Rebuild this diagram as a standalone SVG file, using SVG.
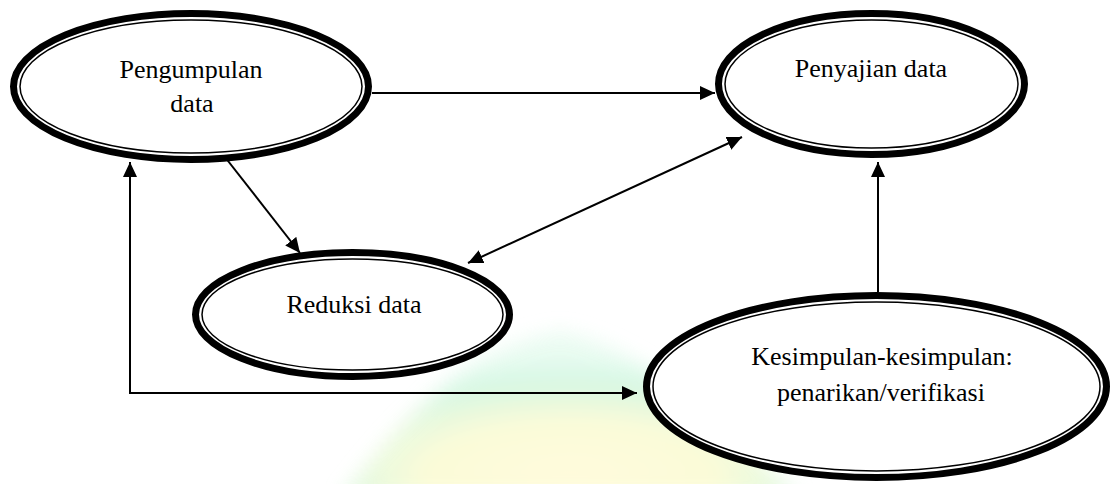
<svg xmlns="http://www.w3.org/2000/svg" width="1113" height="484" viewBox="0 0 1113 484">
  <defs>
    <style>
      .outer { fill: #ffffff; stroke: #000000; stroke-width: 7; }
      .inner { fill: none; stroke: #000000; stroke-width: 1.5; }
      .lbl { font-family: "Liberation Serif", "Times New Roman", serif; font-size: 26px; fill: #000000; text-anchor: middle; }
      .conn { fill: none; stroke: #000000; stroke-width: 2; }
    </style>
    <marker id="arrow" markerUnits="userSpaceOnUse" markerWidth="16" markerHeight="14" refX="15" refY="7" orient="auto-start-reverse">
      <path d="M0,0 L15,7 L0,14 Z" fill="#000000"/>
    </marker>
    <radialGradient id="wmGrad" cx="0.5" cy="0.85" r="0.7">
      <stop offset="0" stop-color="#fffbd6"/>
      <stop offset="0.45" stop-color="#fbfbd2"/>
      <stop offset="0.8" stop-color="#cdf6df"/>
      <stop offset="1" stop-color="#e6fbef"/>
    </radialGradient>
    <filter id="soft" x="-20%" y="-20%" width="140%" height="140%">
      <feGaussianBlur stdDeviation="10"/>
    </filter>
  </defs>

  <rect x="0" y="0" width="1113" height="484" fill="#ffffff"/>

  <g id="watermark" opacity="0.85">
    <path d="M340,500 C400,420 470,345 560,332 C640,345 720,420 800,500 Z" fill="url(#wmGrad)" filter="url(#soft)"/>
  </g>

  <g id="connectors">
    <path class="conn" d="M372,93 L715,93" marker-end="url(#arrow)"/>
    <path class="conn" d="M221,152 L300,253" marker-end="url(#arrow)"/>
    <path class="conn" d="M468,263 L742,137" marker-start="url(#arrow)" marker-end="url(#arrow)"/>
    <path class="conn" d="M878,292 L878,162" marker-end="url(#arrow)"/>
    <path class="conn" d="M637,393 L130,393 L130,162" marker-start="url(#arrow)" marker-end="url(#arrow)"/>
  </g>

  <g id="node-pengumpulan">
    <ellipse class="outer" cx="191" cy="86.5" rx="177.5" ry="73"/>
    <ellipse class="inner" cx="191" cy="86.5" rx="171" ry="66.5"/>
    <text class="lbl" x="191" y="78">Pengumpulan</text>
    <text class="lbl" x="192" y="112">data</text>
  </g>

  <g id="node-penyajian">
    <ellipse class="outer" cx="871.5" cy="84" rx="153" ry="70.5"/>
    <ellipse class="inner" cx="871.5" cy="84" rx="146.5" ry="64"/>
    <text class="lbl" x="871" y="77">Penyajian data</text>
  </g>

  <g id="node-reduksi">
    <ellipse class="outer" cx="352.5" cy="314.5" rx="157" ry="62"/>
    <ellipse class="inner" cx="352.5" cy="314.5" rx="150.5" ry="55.5"/>
    <text class="lbl" x="354" y="313">Reduksi data</text>
  </g>

  <g id="node-kesimpulan">
    <ellipse class="outer" cx="876.5" cy="386.5" rx="230" ry="91"/>
    <ellipse class="inner" cx="876.5" cy="386.5" rx="223.5" ry="84.5"/>
    <text class="lbl" x="882" y="365">Kesimpulan-kesimpulan:</text>
    <text class="lbl" x="881" y="401">penarikan/verifikasi</text>
  </g>
</svg>
